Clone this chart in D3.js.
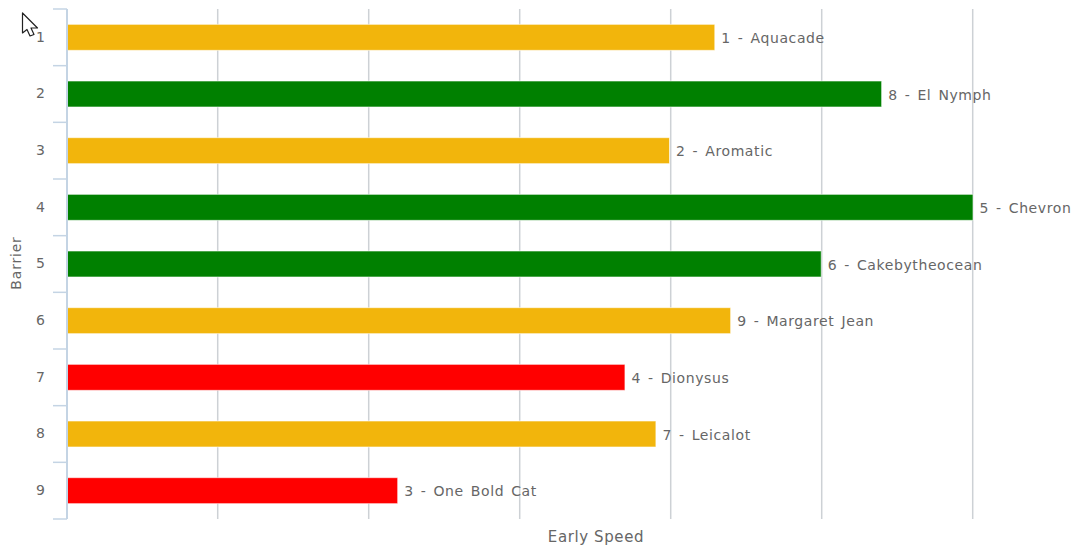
<!DOCTYPE html>
<html><head><meta charset="utf-8">
<script src="https://cdn.jsdelivr.net/npm/d3@7/dist/d3.min.js"></script>
<style>html,body{margin:0;padding:0;background:#fff}svg{display:block}
text{font-family:"DejaVu Sans",sans-serif;fill:#666;font-size:14px}</style></head>
<body><svg id="c" width="1076" height="550"></svg>
<script>
const barriers = ["1","2","3","4","5","6","7","8","9"];
const runners = ["1 - Aquacade","8 - El Nymph","2 - Aromatic","5 - Chevron","6 - Cakebytheocean","9 - Margaret Jean","4 - Dionysus","7 - Leicalot","3 - One Bold Cat"];
const earlySpeed = [85.8,107.9,79.8,120,99.9,87.9,73.9,78,43.8];
const barColors = ["#f2b50c","#008000","#f2b50c","#008000","#008000","#f2b50c","#ff0000","#f2b50c","#ff0000"];
const xTicks = [20,40,60,80,100,120];

const svg = d3.select("#c");
const x = d3.scaleLinear().domain([0,120]).range([67,973]);
const y = d3.scaleBand().domain(barriers).range([9,519]).paddingInner(0).paddingOuter(0);
const barH = 26;

svg.append("g").selectAll("line").data(xTicks).join("line")
  .attr("x1",d=>x(d)-0.3).attr("x2",d=>x(d)-0.3).attr("y1",9).attr("y2",519)
  .attr("stroke","#cdd1d5").attr("stroke-width",1.5);

const rows = barriers.map((b,i)=>({b,name:runners[i],v:earlySpeed[i],c:barColors[i]}));
svg.append("g").selectAll("rect").data(rows).join("rect")
  .attr("x",x(0)).attr("width",d=>x(d.v)-x(0))
  .attr("y",d=>y(d.b)+y.bandwidth()/2-barH/2).attr("height",barH)
  .attr("fill",d=>d.c).attr("stroke","#fff").attr("stroke-opacity",0.6).attr("stroke-width",1);

svg.append("g").selectAll("text").data(rows).join("text")
  .attr("x",d=>x(d.v)+6.5).attr("y",d=>y(d.b)+y.bandwidth()/2+5.5)
  .style("letter-spacing","0.6px").style("word-spacing","2px")
  .text(d=>d.name);

const yAxis = d3.axisLeft(y).tickSizeOuter(0).tickSize(0).tickPadding(22);
const gy = svg.append("g").attr("transform","translate(67,0)").call(yAxis);
gy.select(".domain").attr("stroke","#c4d4e4").attr("stroke-width",2).attr("d","M0,9V519");
gy.selectAll("text").style("font-size","14px").style("font-family",'"DejaVu Sans",sans-serif').attr("fill","#666");
const edges = barriers.map(b=>y(b)).concat([y.range()[1]]);
gy.append("g").selectAll("line").data(edges).join("line")
  .attr("x1",-14).attr("x2",0).attr("y1",d=>d).attr("y2",d=>d)
  .attr("stroke","#c4d4e4").attr("stroke-width",1.5);

svg.append("text").attr("x",596).attr("y",542).attr("text-anchor","middle").text("Early Speed").style("font-size","15px").style("letter-spacing","0.6px");
svg.append("text").attr("transform","translate(21,263) rotate(-90)").attr("text-anchor","middle").text("Barrier").style("letter-spacing","0.8px");

svg.append("path").attr("d","M22.5,13 L22.5,33 L27,29.5 L30,36 L34,34.5 L31,28 L37.5,28 Z")
  .attr("fill","#fff").attr("stroke","#222").attr("stroke-width",1.2).attr("stroke-linejoin","round");
</script></body></html>
